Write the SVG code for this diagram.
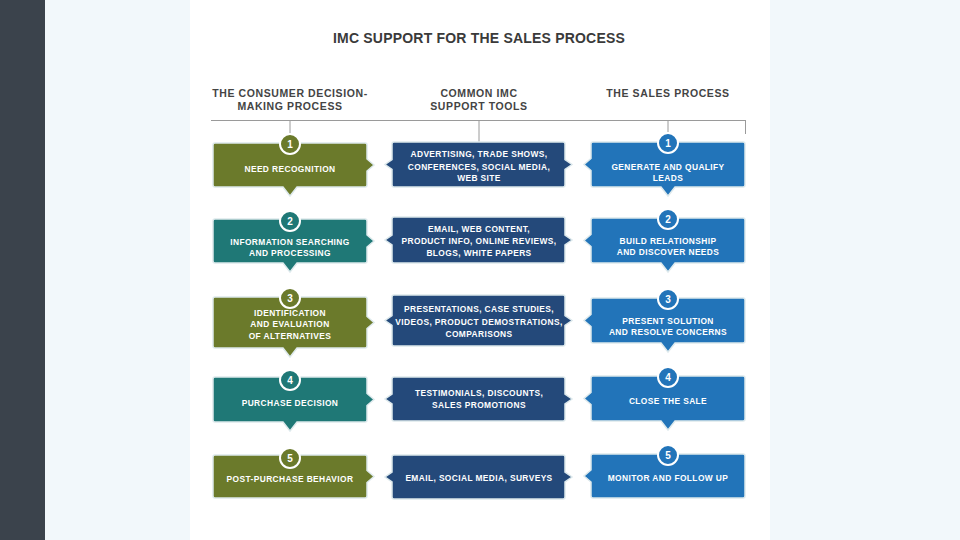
<svg xmlns="http://www.w3.org/2000/svg" width="960" height="540" viewBox="0 0 960 540">
<style>
.t{font-family:"Liberation Sans",Arial,sans-serif;font-weight:bold;fill:#fff;font-size:8.4px;letter-spacing:0.4px;text-anchor:middle}
.h{font-family:"Liberation Sans",Arial,sans-serif;font-weight:bold;fill:#444;font-size:10.5px;letter-spacing:0.6px;text-anchor:middle}
.n{font-family:"Liberation Sans",Arial,sans-serif;font-weight:bold;fill:#fff;font-size:10px;text-anchor:middle}
.ol{fill:#6b7a2b}
.te{fill:#1f7876}
.nv{fill:#24497a}
.bl{fill:#2274b9}
.box{stroke:#dde9ec;stroke-width:1.5}
.c{stroke:#fff;stroke-width:2}
.ln{stroke:#9a9a9a;stroke-width:1;fill:none}
</style>
<rect x="0" y="0" width="960" height="540" fill="#f2f8fb"/>
<rect x="0" y="0" width="45" height="540" fill="#3b434c"/>
<rect x="190" y="0" width="580" height="540" fill="#ffffff"/>
<text x="479" y="43" style="font-family:'Liberation Sans',Arial,sans-serif;font-weight:bold;font-size:14px;letter-spacing:0.2px;fill:#3a3a3a;text-anchor:middle">IMC SUPPORT FOR THE SALES PROCESS</text>
<text class="h" x="290" y="97">THE CONSUMER DECISION-</text>
<text class="h" x="290" y="110">MAKING PROCESS</text>
<text class="h" x="479" y="97">COMMON IMC</text>
<text class="h" x="479" y="110">SUPPORT TOOLS</text>
<text class="h" x="668" y="97">THE SALES PROCESS</text>
<g id="connectors">
<path class="ln" d="M211 120.5H745.5M290 120V134M479 120V142M668 120V132M745.5 120V134"/>
</g>
<!-- Left column -->
<g id="L1">
<path class="box ol" d="M215 143H365Q367 143 367 145V159L374 165L367 171V185Q367 187 365 187H297L290 196L283 187H215Q213 187 213 185V145Q213 143 215 143Z"/>
<circle class="c ol" cx="290" cy="144" r="10"/><text class="n" x="290" y="148">1</text>
<text class="t" x="290" y="172">NEED RECOGNITION</text>
</g>
<g id="L2">
<path class="box te" d="M215 219H365Q367 219 367 221V235L374 241L367 247V261Q367 263 365 263H297L290 272L283 263H215Q213 263 213 261V221Q213 219 215 219Z"/>
<circle class="c te" cx="290" cy="221" r="10"/><text class="n" x="290" y="225">2</text>
<text class="t" x="290" y="245">INFORMATION SEARCHING</text>
<text class="t" x="290" y="256">AND PROCESSING</text>
</g>
<g id="L3">
<path class="box ol" d="M215 297H365Q367 297 367 299V316.5L374 322.5L367 328.5V346Q367 348 365 348H297L290 357L283 348H215Q213 348 213 346V299Q213 297 215 297Z"/>
<circle class="c ol" cx="290" cy="298" r="10"/><text class="n" x="290" y="302">3</text>
<text class="t" x="290" y="316">IDENTIFICATION</text>
<text class="t" x="290" y="327">AND EVALUATION</text>
<text class="t" x="290" y="339">OF ALTERNATIVES</text>
</g>
<g id="L4">
<path class="box te" d="M215 377H365Q367 377 367 379V393.5L374 399.5L367 405.5V420Q367 422 365 422H297L290 431L283 422H215Q213 422 213 420V379Q213 377 215 377Z"/>
<circle class="c te" cx="290" cy="380" r="10"/><text class="n" x="290" y="384">4</text>
<text class="t" x="290" y="406">PURCHASE DECISION</text>
</g>
<g id="L5">
<path class="box ol" d="M215 455H365Q367 455 367 457V470.5L374 476.5L367 482.5V496Q367 498 365 498H215Q213 498 213 496V457Q213 455 215 455Z"/>
<circle class="c ol" cx="290" cy="458" r="10"/><text class="n" x="290" y="462">5</text>
<text class="t" x="290" y="482">POST-PURCHASE BEHAVIOR</text>
</g>
<!-- Middle column -->
<g id="M1">
<path class="box nv" d="M394 142H563Q565 142 565 144V159.5L572 164.5L565 169.5V185Q565 187 563 187H394Q392 187 392 185V169.5L385 164.5L392 159.5V144Q392 142 394 142Z"/>
<text class="t" x="479" y="157">ADVERTISING, TRADE SHOWS,</text>
<text class="t" x="479" y="170">CONFERENCES, SOCIAL MEDIA,</text>
<text class="t" x="479" y="181">WEB SITE</text>
</g>
<g id="M2">
<path class="box nv" d="M394 217H563Q565 217 565 219V235L572 240L565 245V261Q565 263 563 263H394Q392 263 392 261V245L385 240L392 235V219Q392 217 394 217Z"/>
<text class="t" x="479" y="232">EMAIL, WEB CONTENT,</text>
<text class="t" x="479" y="244">PRODUCT INFO, ONLINE REVIEWS,</text>
<text class="t" x="479" y="256">BLOGS, WHITE PAPERS</text>
</g>
<g id="M3">
<path class="box nv" d="M394 295H563Q565 295 565 297V315.5L572 320.5L565 325.5V344Q565 346 563 346H394Q392 346 392 344V325.5L385 320.5L392 315.5V297Q392 295 394 295Z"/>
<text class="t" x="479" y="312">PRESENTATIONS, CASE STUDIES,</text>
<text class="t" x="479" y="325">VIDEOS, PRODUCT DEMOSTRATIONS,</text>
<text class="t" x="479" y="337">COMPARISONS</text>
</g>
<g id="M4">
<path class="box nv" d="M394 377H563Q565 377 565 379V394L572 399L565 404V419Q565 421 563 421H394Q392 421 392 419V404L385 399L392 394V379Q392 377 394 377Z"/>
<text class="t" x="479" y="396">TESTIMONIALS, DISCOUNTS,</text>
<text class="t" x="479" y="408">SALES PROMOTIONS</text>
</g>
<g id="M5">
<path class="box nv" d="M394 455H563Q565 455 565 457V472L572 477L565 482V497Q565 499 563 499H394Q392 499 392 497V482L385 477L392 472V457Q392 455 394 455Z"/>
<text class="t" x="479" y="481">EMAIL, SOCIAL MEDIA, SURVEYS</text>
</g>
<!-- Right column -->
<g id="R1">
<path class="box bl" d="M593 142H743Q745 142 745 144V185Q745 187 743 187H675L668 196L661 187H593Q591 187 591 185V170.5L584 164.5L591 158.5V144Q591 142 593 142Z"/>
<circle class="c bl" cx="668" cy="143" r="10"/><text class="n" x="668" y="147">1</text>
<text class="t" x="668" y="170">GENERATE AND QUALIFY</text>
<text class="t" x="668" y="181">LEADS</text>
</g>
<g id="R2">
<path class="box bl" d="M593 218H743Q745 218 745 220V261Q745 263 743 263H675L668 272L661 263H593Q591 263 591 261V246.5L584 240.5L591 234.5V220Q591 218 593 218Z"/>
<circle class="c bl" cx="668" cy="219" r="10"/><text class="n" x="668" y="223">2</text>
<text class="t" x="668" y="244">BUILD RELATIONSHIP</text>
<text class="t" x="668" y="255">AND DISCOVER NEEDS</text>
</g>
<g id="R3">
<path class="box bl" d="M593 298H743Q745 298 745 300V341Q745 343 743 343H675L668 352L661 343H593Q591 343 591 341V326.5L584 320.5L591 314.5V300Q591 298 593 298Z"/>
<circle class="c bl" cx="668" cy="299" r="10"/><text class="n" x="668" y="303">3</text>
<text class="t" x="668" y="324">PRESENT SOLUTION</text>
<text class="t" x="668" y="335">AND RESOLVE CONCERNS</text>
</g>
<g id="R4">
<path class="box bl" d="M593 376H743Q745 376 745 378V419Q745 421 743 421H675L668 430L661 421H593Q591 421 591 419V404.5L584 398.5L591 392.5V378Q591 376 593 376Z"/>
<circle class="c bl" cx="668" cy="377" r="10"/><text class="n" x="668" y="381">4</text>
<text class="t" x="668" y="404">CLOSE THE SALE</text>
</g>
<g id="R5">
<path class="box bl" d="M593 454H743Q745 454 745 456V496Q745 498 743 498H593Q591 498 591 496V482L584 476L591 470V456Q591 454 593 454Z"/>
<circle class="c bl" cx="668" cy="455" r="10"/><text class="n" x="668" y="459">5</text>
<text class="t" x="668" y="481">MONITOR AND FOLLOW UP</text>
</g>
</svg>
